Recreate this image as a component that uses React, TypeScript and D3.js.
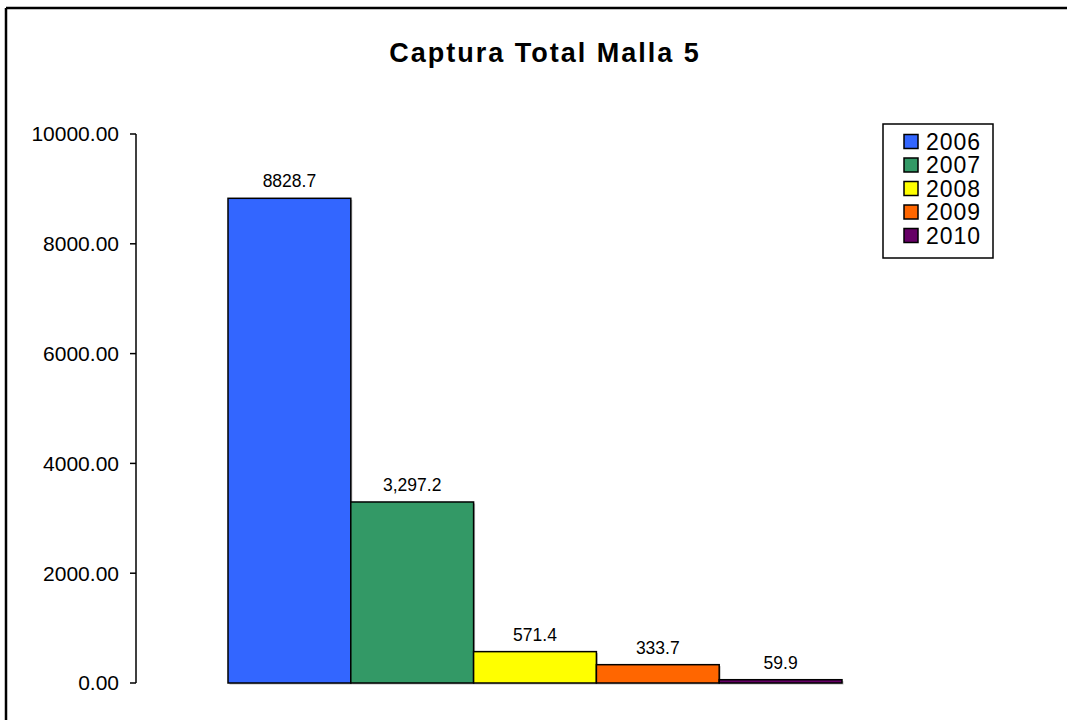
import React from "react";
import * as d3 from "d3";

const years = ["2006", "2007", "2008", "2009", "2010"];
const values = [8828.7, 3297.2, 571.4, 333.7, 59.9];
const valueLabels = ["8828.7", "3,297.2", "571.4", "333.7", "59.9"];
const colors = ["#3366FF", "#339966", "#FFFF00", "#FF6600", "#660066"];
const yTicks = [0, 2000, 4000, 6000, 8000, 10000];
const title = "Captura Total Malla 5";

export default function App() {
  const W = 1067, H = 720;
  const y = d3.scaleLinear().domain([0, 10000]).range([683, 134]);
  const x = d3.scaleBand<string>().domain(years).range([228, 842]).padding(0);
  const axisX = 136;
  const font = "Arial, 'Liberation Sans', sans-serif";
  return (
    <svg width={W} height={H} style={{ position: "absolute", left: 0, top: 0, background: "#fff" }} fontFamily={font}>
      <line x1={6} x2={W} y1={8} y2={8} stroke="#000" strokeWidth={2.5} />
      <line x1={6} x2={6} y1={8} y2={H} stroke="#000" strokeWidth={2.5} />
      <text x={545} y={62} textAnchor="middle" fontSize={27} fontWeight="bold" letterSpacing={2}>{title}</text>
      <line x1={axisX} x2={axisX} y1={y(10000)} y2={y(0)} stroke="#000" strokeWidth={1.5} />
      {yTicks.map((t) => (
        <g key={t}>
          <line x1={axisX - 6} x2={axisX} y1={y(t)} y2={y(t)} stroke="#000" strokeWidth={1.5} />
          <text x={119} y={y(t)} dy="0.35em" textAnchor="end" fontSize={21}>{d3.format(".2f")(t)}</text>
        </g>
      ))}
      {years.map((yr, i) => (
        <rect key={"s" + yr} x={x(yr)! + 1.5} y={y(values[i]) + 1.5} width={x.bandwidth()} height={y(0) - y(values[i])}
          fill="#bbb" />
      ))}
      {years.map((yr, i) => (
        <g key={yr}>
          <rect x={x(yr)!} y={y(values[i])} width={x.bandwidth()} height={y(0) - y(values[i])}
            fill={colors[i]} stroke="#000" strokeWidth={1.5} />
          <text x={x(yr)! + x.bandwidth() / 2} y={y(values[i]) - 11} textAnchor="middle" fontSize={17.5}>{valueLabels[i]}</text>
        </g>
      ))}
      <rect x={883} y={124} width={110} height={134} fill="#fff" stroke="#000" strokeWidth={1.5} />
      {years.map((yr, i) => (
        <g key={yr}>
          <rect x={904} y={134.5 + i * 23.5} width={14} height={14} fill={colors[i]} stroke="#000" strokeWidth={1.5} />
          <text x={926} y={141.5 + i * 23.5} dy="0.35em" fontSize={23} letterSpacing={1}>{yr}</text>
        </g>
      ))}
    </svg>
  );
}
